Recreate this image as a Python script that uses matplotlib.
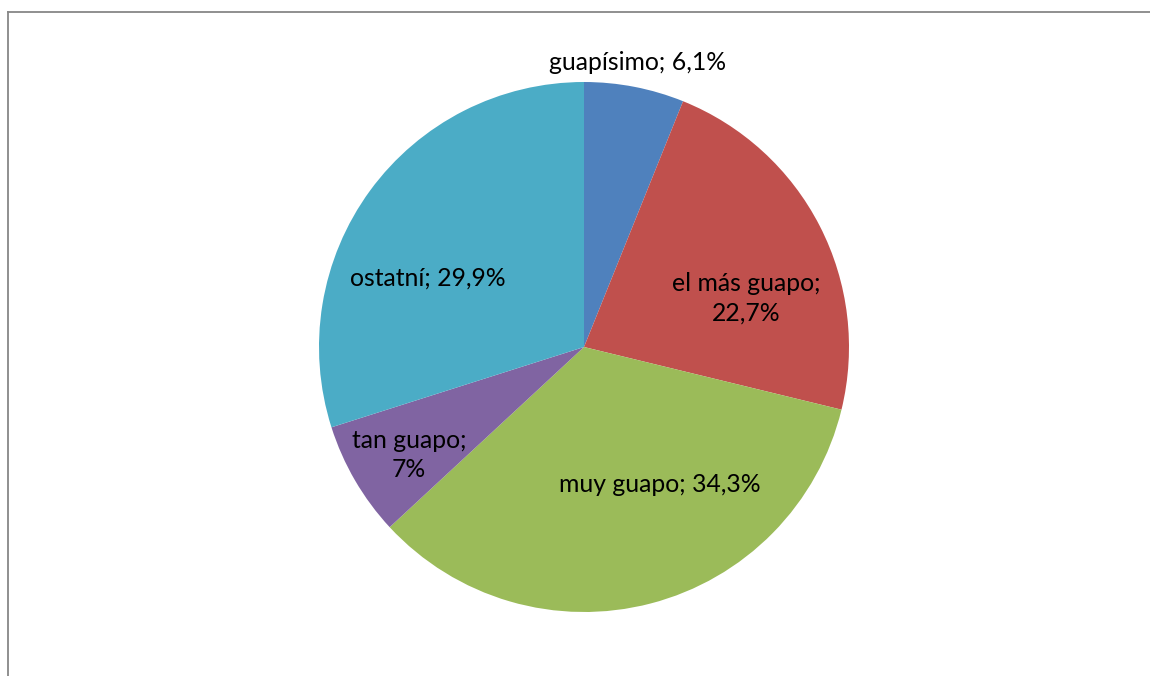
import matplotlib
matplotlib.use("Agg")
import matplotlib.pyplot as plt
from matplotlib.lines import Line2D

categories = ["guapísimo", "el más guapo", "muy guapo", "tan guapo", "ostatní"]
values = [6.1, 22.7, 34.3, 7.0, 29.9]
value_text = ["6,1%", "22,7%", "34,3%", "7%", "29,9%"]
colors = ["#4F81BD", "#C0504D", "#9BBB59", "#8064A2", "#4BACC6"]

W, H = 1150, 676
fig = plt.figure(figsize=(W / 100, H / 100), dpi=100)
fig.patch.set_facecolor("white")

# axes in pixel units (y measured upward)
ax = fig.add_axes([0, 0, 1, 1])
cx, cy, r = 584, H - 347, 265
wedges, _ = ax.pie(values, colors=colors, startangle=90, counterclock=False,
                   center=(cx, cy), radius=r,
                   wedgeprops=dict(linewidth=0))
ax.set_xlim(0, W)
ax.set_ylim(0, H)
ax.set_aspect("equal")
ax.axis("off")

# chart frame (left and top edges visible)
frame_kw = dict(color="#878787", linewidth=1.3, transform=fig.transFigure)
fig.add_artist(Line2D([7.5 / W, 7.5 / W], [0, 1 - 11.5 / H], **frame_kw))
fig.add_artist(Line2D([7.5 / W, 1], [1 - 11.5 / H, 1 - 11.5 / H], **frame_kw))

label_font = dict(fontsize=17.8, family=["Lato", "DejaVu Sans"], color="black",
                  ha="center", va="center", linespacing=1.35)

label_texts = [
    f"{categories[0]}; {value_text[0]}",
    f"{categories[1]};\n{value_text[1]}",
    f"{categories[2]}; {value_text[2]}",
    f"{categories[3]};\n{value_text[3]}",
    f"{categories[4]}; {value_text[4]}",
]
label_pos = [(638, 62), (746, 298), (660, 484), (409, 455), (428, 278)]
for txt, (px, py) in zip(label_texts, label_pos):
    ax.text(px, H - py, txt, **label_font)

fig.savefig("out.png", dpi=100)
